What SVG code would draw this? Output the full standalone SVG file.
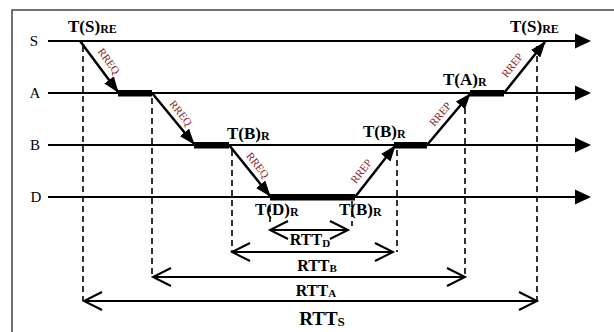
<svg xmlns="http://www.w3.org/2000/svg" width="614" height="332" viewBox="0 0 614 332">
<defs>
<style>
.lane{stroke:#000;stroke-width:2.2;fill:none}
.msg{stroke:#000;stroke-width:2.5;fill:none;marker-end:url(#fill)}
.bar{fill:#000}
.dash{stroke:#000;stroke-width:1.6;stroke-dasharray:6,4;fill:none}
.dim{stroke:#000;stroke-width:2;fill:none;marker-start:url(#open);marker-end:url(#open)}
.lbl{font-family:"Liberation Serif","Times New Roman",serif;font-size:15px;fill:#000}
.t{font-family:"Liberation Serif","Times New Roman",serif;font-weight:bold;font-size:17px;fill:#000}
.sub{font-size:12px}
.rtt{font-family:"Liberation Serif","Times New Roman",serif;font-weight:bold;font-size:16px;fill:#000}
.rs{font-size:11px}
.m{font-family:"Liberation Serif","Times New Roman",serif;font-size:11px;fill:#8b1a1a}
</style>
<marker id="fill" markerUnits="userSpaceOnUse" viewBox="0 0 16 12" refX="15" refY="6" markerWidth="16" markerHeight="12" orient="auto">
<path d="M0,0 L16,6 L0,12 z" fill="#000"/>
</marker>
<marker id="open" markerUnits="userSpaceOnUse" viewBox="0 0 22 22" refX="20" refY="11" markerWidth="22" markerHeight="22" orient="auto-start-reverse" overflow="visible">
<path d="M2,2 L20,11 L2,20" fill="none" stroke="#000" stroke-width="2"/>
</marker>
</defs>
<rect x="12" y="10" width="612" height="332" fill="#fff" stroke="#444" stroke-width="1.5"/>

<g id="lanes">
<g id="lane-S"><text class="lbl" x="34" y="46" text-anchor="middle">S</text><line class="lane" x1="48" y1="41" x2="578" y2="41"/><polygon points="575,33.5 591,41 575,48.5"/></g>
<g id="lane-A"><text class="lbl" x="35" y="98" text-anchor="middle">A</text><line class="lane" x1="48" y1="93" x2="578" y2="93"/><polygon points="575,85.5 591,93 575,100.5"/></g>
<g id="lane-B"><text class="lbl" x="35" y="150" text-anchor="middle">B</text><line class="lane" x1="48" y1="145" x2="578" y2="145"/><polygon points="575,137.5 591,145 575,152.5"/></g>
<g id="lane-D"><text class="lbl" x="36" y="202" text-anchor="middle">D</text><line class="lane" x1="48" y1="197" x2="578" y2="197"/><polygon points="575,189.5 591,197 575,204.5"/></g>
</g>

<g id="processing">
<rect class="bar" x="118" y="90" width="34" height="6.5"/>
<rect class="bar" x="194" y="142" width="35" height="6.5"/>
<rect class="bar" x="270" y="194" width="85" height="6.5"/>
<rect class="bar" x="394" y="142" width="33" height="6.5"/>
<rect class="bar" x="470" y="90" width="34" height="6.5"/>
</g>

<g id="connectors">
<line class="msg" x1="80" y1="41" x2="118" y2="92"/>
<line class="msg" x1="152" y1="93" x2="194" y2="144"/>
<line class="msg" x1="229" y1="145" x2="270" y2="196"/>
<line class="msg" x1="355" y1="197" x2="395" y2="146"/>
<line class="msg" x1="427" y1="145" x2="470" y2="94"/>
<line class="msg" x1="504" y1="93" x2="545" y2="42"/>
<line class="dash" x1="83" y1="46" x2="83" y2="301"/>
<line class="dash" x1="152" y1="98" x2="152" y2="277"/>
<line class="dash" x1="232" y1="150" x2="232" y2="252"/>
<line class="dash" x1="270" y1="206" x2="270" y2="226"/>
<line class="dash" x1="352" y1="201" x2="352" y2="226"/>
<line class="dash" x1="397" y1="150" x2="397" y2="252"/>
<line class="dash" x1="465" y1="98" x2="465" y2="277"/>
<line class="dash" x1="537" y1="46" x2="537" y2="301"/>
<line class="dim" x1="270" y1="230" x2="348" y2="230"/>
<line class="dim" x1="232" y1="252" x2="393" y2="252"/>
<line class="dim" x1="153" y1="277" x2="465" y2="277"/>
<line class="dim" x1="84" y1="301" x2="537" y2="301"/>
</g>

<g id="message-labels">
<text class="m" transform="translate(109,61) rotate(54)" text-anchor="middle" dy="4">RREQ</text>
<text class="m" transform="translate(181,113) rotate(51)" text-anchor="middle" dy="4">RREQ</text>
<text class="m" transform="translate(258,165) rotate(52)" text-anchor="middle" dy="4">RREQ</text>
<text class="m" transform="translate(361,171) rotate(-52)" text-anchor="middle" dy="4">RREP</text>
<text class="m" transform="translate(440,114) rotate(-50)" text-anchor="middle" dy="4">RREP</text>
<text class="m" transform="translate(512,65) rotate(-52)" text-anchor="middle" dy="4">RREP</text>
</g>

<g id="time-labels">
<text class="t" x="68" y="32">T(S)<tspan class="sub" dy="1">RE</tspan></text>
<text class="t" x="510" y="32">T(S)<tspan class="sub" dy="1">RE</tspan></text>
<text class="t" x="227" y="139">T(B)<tspan class="sub" dy="1">R</tspan></text>
<text class="t" x="363" y="137">T(B)<tspan class="sub" dy="1">R</tspan></text>
<text class="t" x="443" y="85">T(A)<tspan class="sub" dy="1">R</tspan></text>
<text class="t" x="255" y="215">T(D)<tspan class="sub" dy="1">R</tspan></text>
<text class="t" x="339" y="215">T(B)<tspan class="sub" dy="1">R</tspan></text>
</g>

<g id="rtt-labels">
<text class="rtt" x="310" y="245" text-anchor="middle">RTT<tspan class="rs" dy="2">D</tspan></text>
<text class="rtt" x="317" y="271" text-anchor="middle">RTT<tspan class="rs" dy="1">B</tspan></text>
<text class="rtt" x="316" y="296" text-anchor="middle">RTT<tspan class="rs" dy="1">A</tspan></text>
<text class="rtt" x="322" y="325" text-anchor="middle" style="font-size:19px">RTT<tspan style="font-size:13px" dy="1">S</tspan></text>
</g>
</svg>
